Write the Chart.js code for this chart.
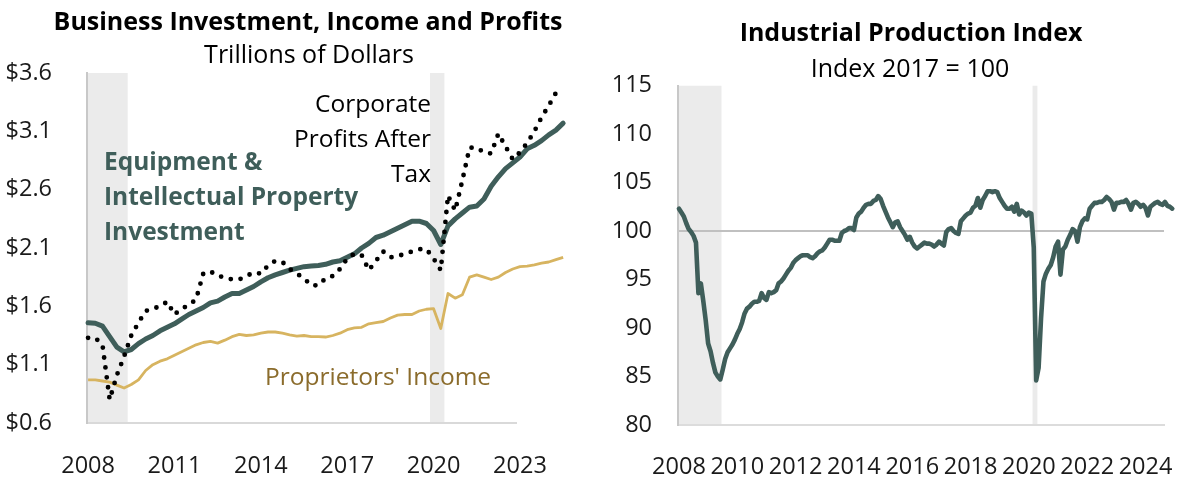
<!DOCTYPE html>
<html>
<head>
<meta charset="utf-8">
<title>Business Investment and Industrial Production</title>
<script src="https://cdn.jsdelivr.net/npm/chart.js@4.4.1/dist/chart.umd.min.js"></script>
<style>
  html, body { margin: 0; padding: 0; background: #fff; }
  body { position: relative; width: 1178px; height: 477px; overflow: hidden; font-family: "Open Sans", sans-serif; color: #000; }
  canvas { position: absolute; top: 0; }
  #invest-chart { left: 0; }
  #ip-chart { left: 590px; }
  .label { position: absolute; white-space: nowrap; font-size: 24.5px; line-height: 35px; }
  .title { font-weight: 700; font-size: 25px; line-height: 30px; transform: translateX(-50%); }
  .subtitle { font-size: 25px; transform: translateX(-50%); }
  .invest { color: #3f5e5a; font-weight: 700; }
  .income { color: #8b6c2c; }
</style>
</head>
<body>
<canvas id="invest-chart" width="589" height="477"></canvas>
<canvas id="ip-chart" width="620" height="477"></canvas>

<div class="label title" style="left:308px; top:5px">Business Investment, Income and Profits</div>
<div class="label subtitle" style="left:309px; top:36px">Trillions of Dollars</div>
<div class="label title" style="left:911px; top:16px">Industrial Production Index</div>
<div class="label subtitle" style="left:910px; top:50px">Index 2017 = 100</div>
<div class="label" style="right:747px; top:85px; text-align:right">Corporate<br>Profits After<br>Tax</div>
<div class="label invest" style="left:104px; top:143px">Equipment &amp;<br>Intellectual Property<br>Investment</div>
<div class="label income" style="left:265px; top:358px">Proprietors' Income</div>

<script>
// Quarterly, 2008Q1 onward, trillions of dollars
const equipIpInvestment = [
  1.46, 1.455, 1.43, 1.34, 1.25, 1.21, 1.23, 1.28,
  1.32, 1.35, 1.39, 1.42, 1.45, 1.49, 1.53, 1.56,
  1.59, 1.63, 1.645, 1.68, 1.71, 1.71, 1.74, 1.77,
  1.81, 1.845, 1.87, 1.89, 1.91, 1.925, 1.94, 1.945,
  1.95, 1.96, 1.98, 1.99, 2.02, 2.05, 2.10, 2.14,
  2.19, 2.21, 2.24, 2.27, 2.30, 2.33, 2.33, 2.31,
  2.25, 2.13, 2.29, 2.35, 2.40, 2.45, 2.46, 2.52,
  2.63, 2.71, 2.78, 2.83, 2.88, 2.95, 2.98, 3.02,
  3.07, 3.11, 3.17
];
const profitsAfterTax = [
  1.33, 1.33, 1.27, 0.80, 1.01, 1.17, 1.35, 1.46,
  1.56, 1.58, 1.60, 1.64, 1.53, 1.58, 1.61, 1.66,
  1.88, 1.90, 1.86, 1.85, 1.83, 1.83, 1.86, 1.89,
  1.88, 1.95, 1.99, 1.98, 1.92, 1.88, 1.84, 1.78,
  1.78, 1.84, 1.86, 1.92, 2.01, 2.05, 2.04, 1.91,
  1.99, 2.07, 2.02, 2.03, 2.05, 2.07, 2.09, 2.09,
  2.01, 1.91, 2.55, 2.42, 2.68, 2.96, 2.96, 2.92,
  2.91, 3.08, 2.97, 2.86, 2.92, 3.00, 3.10, 3.22,
  3.32, 3.43
];
const proprietorsIncome = [
  0.97, 0.97, 0.96, 0.95, 0.925, 0.90, 0.93, 0.97,
  1.05, 1.10, 1.13, 1.15, 1.18, 1.21, 1.24, 1.27,
  1.29, 1.30, 1.285, 1.31, 1.34, 1.36, 1.35, 1.355,
  1.37, 1.38, 1.38, 1.37, 1.355, 1.345, 1.35, 1.34,
  1.34, 1.337, 1.35, 1.37, 1.40, 1.415, 1.42, 1.45,
  1.46, 1.47, 1.50, 1.525, 1.53, 1.53, 1.56, 1.575,
  1.58, 1.41, 1.71, 1.67, 1.70, 1.85, 1.87, 1.85,
  1.83, 1.85, 1.89, 1.92, 1.94, 1.945, 1.955, 1.97,
  1.98, 2.00, 2.02
];
const investTickYears = ['2008', '2011', '2014', '2017', '2020', '2023'];
const investTickValues = [0.6, 1.1, 1.6, 2.1, 2.6, 3.1, 3.6];
const quarterRecessions = [['2008Q1', '2009Q2'], ['2020Q1', '2020Q2']];

// Monthly, Jan 2008 onward, index 2017 = 100
const industrialProduction = [
  102.3, 101.9, 101.5, 100.8, 100.2, 99.9, 99.5, 98.8, 93.6, 94.6, 92.8, 90.8,
  88.4, 87.6, 86.4, 85.4, 85.0, 84.7, 85.7, 86.8, 87.5, 87.9, 88.3, 88.8,
  89.4, 89.9, 90.6, 91.5, 92.0, 92.2, 92.5, 92.7, 92.7, 92.8, 93.6, 93.1,
  92.9, 93.7, 93.6, 93.7, 93.9, 94.6, 94.8, 95.1, 95.5, 95.9, 96.2, 96.7,
  97.0, 97.2, 97.4, 97.5, 97.5, 97.5, 97.3, 97.2, 97.4, 97.7, 97.9, 98.0,
  98.3, 98.7, 99.1, 99.1, 99.0, 99.0, 99.0, 99.8, 100.0, 100.1, 100.3, 100.3,
  100.1, 101.4, 101.8, 102.0, 102.4, 102.7, 102.8, 102.8, 103.1, 103.2, 103.6, 103.3,
  102.6, 102.0, 101.4, 100.9, 100.4, 100.9, 101.0, 100.4, 100.0, 99.6, 99.1, 99.4,
  98.8, 98.4, 98.2, 98.4, 98.6, 98.8, 98.7, 98.7, 98.6, 98.4, 98.6, 98.9,
  98.7, 98.5, 99.9, 100.2, 100.3, 100.0, 99.8, 99.7, 101.0, 101.3, 101.6, 101.8,
  101.9, 102.4, 102.6, 103.4, 102.4, 103.2, 103.6, 104.1, 104.1, 104.0, 104.1, 104.0,
  103.4, 103.0, 102.6, 102.3, 102.3, 102.5, 102.0, 102.8, 101.7, 102.1, 101.9, 101.6,
  101.9, 101.8, 98.3, 84.6, 85.9, 91.0, 94.8, 95.6, 96.1, 96.5, 97.3, 98.4,
  98.9, 95.5, 98.1, 98.4, 99.1, 99.6, 100.2, 100.0, 98.9, 100.4, 101.0, 101.3,
  101.2, 102.3, 102.6, 102.9, 102.9, 103.0, 103.0, 103.2, 103.5, 103.3, 103.0, 102.2,
  102.9, 102.9, 103.0, 103.0, 103.2, 102.8, 102.2, 102.9, 103.0, 102.8, 102.5, 102.7,
  102.4, 101.6, 102.5, 102.7, 102.9, 103.0, 102.8, 102.7, 103.0, 102.6, 102.5, 102.3
];
const ipTickYears = ['2008', '2010', '2012', '2014', '2016', '2018', '2020', '2022', '2024'];
const ipTickValues = [80, 85, 90, 95, 100, 105, 110, 115];
const monthRecessions = [['2008-01', '2009-06'], ['2020-03', '2020-04']];

const TEAL = '#3f5e5a';
const GOLD = '#d7b460';
const SHADE = '#ebebeb';
const tickFont = { family: 'Open Sans', size: 23.5 };
const tickColor = '#1a1a1a';

const quarters = equipIpInvestment.map((_, i) => `${2008 + Math.floor(i / 4)}Q${i % 4 + 1}`);
const months = industrialProduction.map((_, i) => `${2008 + Math.floor(i / 12)}-${String(i % 12 + 1).padStart(2, '0')}`);

const toPoints = values => values.map((y, x) => ({ x, y }));

// grey bands behind everything for each recession period
function recessionBands(labels, periods) {
  const spans = periods.map(([from, to]) => [labels.indexOf(from) - 0.5, labels.indexOf(to) + 0.5]);
  return {
    id: 'recessionBands',
    beforeDraw(chart) {
      const { ctx, chartArea: a, scales: { x } } = chart;
      ctx.save();
      ctx.beginPath();
      ctx.rect(a.left, a.top, a.right - a.left, a.bottom - a.top);
      ctx.clip();
      ctx.fillStyle = SHADE;
      spans.forEach(([s, e]) => {
        const x0 = x.getPixelForValue(s);
        const x1 = x.getPixelForValue(e);
        ctx.fillRect(x0, a.top, x1 - x0, a.bottom - a.top);
      });
      ctx.restore();
    }
  };
}

const baseOptions = {
  animation: false,
  responsive: false,
  events: [],
  elements: {
    point: { radius: 0 },
    line: { tension: 0, borderJoinStyle: 'round' }
  },
  plugins: { legend: { display: false }, tooltip: { enabled: false } }
};

new Chart(document.getElementById('invest-chart'), {
  type: 'line',
  data: {
    datasets: [
      {
        label: 'Corporate Profits After Tax',
        data: toPoints(profitsAfterTax),
        borderColor: '#000',
        borderWidth: 4.8,
        borderDash: [0, 10],
        borderCapStyle: 'round',
        clip: false
      },
      {
        label: 'Equipment & Intellectual Property Investment',
        data: toPoints(equipIpInvestment),
        borderColor: TEAL,
        borderWidth: 5,
        borderCapStyle: 'round',
        clip: false
      },
      {
        label: "Proprietors' Income",
        data: toPoints(proprietorsIncome),
        borderColor: GOLD,
        borderWidth: 2.8,
        clip: false
      }
    ]
  },
  options: {
    ...baseOptions,
    layout: { padding: { top: 73, right: 73, left: 0, bottom: 0 } },
    scales: {
      x: {
        type: 'linear',
        bounds: 'data',
        afterDataLimits: s => { s.min = -0.15; s.max = 59.45; },
        afterBuildTicks: s => {
          s.ticks = investTickYears.map(y => ({ value: quarters.indexOf(y + 'Q1') }));
        },
        afterFit: s => { s.height = 54; },
        grid: { display: false },
        border: { color: '#d9d9d9', width: 2 },
        ticks: {
          autoSkip: false, maxRotation: 0, padding: 21,
          font: tickFont, color: tickColor,
          callback: (v, i) => investTickYears[i]
        }
      },
      y: {
        min: 0.6,
        max: 3.6,
        afterBuildTicks: s => { s.ticks = investTickValues.map(v => ({ value: v })); },
        afterFit: s => { s.width = 87; },
        grid: { display: false },
        border: { color: '#c8c8c8', width: 2 },
        ticks: {
          padding: 27, font: tickFont, color: tickColor,
          callback: v => '$' + v.toFixed(1)
        }
      }
    }
  },
  plugins: [recessionBands(quarters, quarterRecessions)]
});

new Chart(document.getElementById('ip-chart'), {
  type: 'line',
  data: {
    datasets: [{
      label: 'Industrial Production Index',
      data: toPoints(industrialProduction),
      borderColor: TEAL,
      borderWidth: 4.6,
      borderCapStyle: 'round',
      clip: false
    }]
  },
  options: {
    ...baseOptions,
    layout: { padding: { top: 85.5, right: 46, left: 0, bottom: 0 } },
    scales: {
      x: {
        type: 'linear',
        bounds: 'data',
        afterDataLimits: s => { s.min = -0.4; s.max = 199.6; },
        afterBuildTicks: s => {
          s.ticks = ipTickYears.map(y => ({ value: months.indexOf(y + '-01') }));
        },
        afterFit: s => { s.height = 52; },
        grid: { display: false },
        border: { color: '#dcdcdc', width: 2 },
        ticks: {
          autoSkip: false, maxRotation: 0, padding: 20,
          font: tickFont, color: tickColor,
          callback: (v, i) => ipTickYears[i]
        }
      },
      y: {
        min: 80,
        max: 115,
        afterBuildTicks: s => { s.ticks = ipTickValues.map(v => ({ value: v })); },
        afterFit: s => { s.width = 88; },
        grid: {
          drawTicks: false,
          lineWidth: 2,
          color: c => (c.tick && c.tick.value === 100 ? '#c0c0c0' : 'rgba(0,0,0,0)')
        },
        border: { color: '#c8c8c8', width: 2 },
        ticks: { padding: 26, font: tickFont, color: tickColor }
      }
    }
  },
  plugins: [recessionBands(months, monthRecessions)]
});
</script>
</body>
</html>
